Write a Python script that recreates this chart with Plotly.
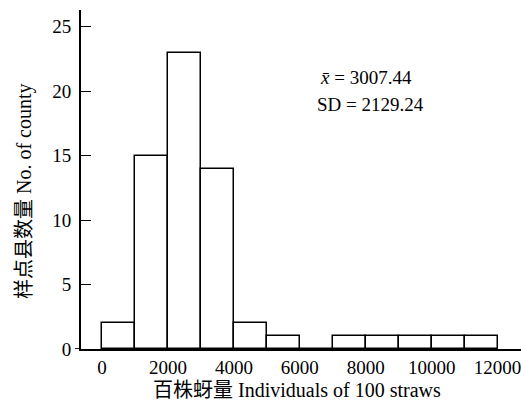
import plotly.graph_objects as go

bin_starts = [0, 1000, 2000, 3000, 4000, 5000, 6000, 7000, 8000, 9000, 10000, 11000]
counts = [2, 15, 23, 14, 2, 1, 0, 1, 1, 1, 1, 1]
bin_width = 1000
x_ticks = [0, 2000, 4000, 6000, 8000, 10000, 12000]
x_tick_labels = ["0", "2000", "4000", "6000", "8000", "10000", "12000"]
y_ticks = [0, 5, 10, 15, 20, 25]
x_title = "百株蚜量 Individuals of 100 straws"
y_title = "样点县数量 No. of county"
mean_text = "<i>x\u0304</i> = 3007.44"
sd_text = "SD = 2129.24"

FONT = "Liberation Serif, Noto Sans CJK SC"

centers = [b + bin_width / 2 for b in bin_starts]

fig = go.Figure()
fig.add_trace(go.Bar(
    x=centers, y=counts, width=[bin_width] * len(counts),
    marker=dict(color="white", line=dict(color="black", width=1.5)),
    showlegend=False, hoverinfo="skip",
))

fig.update_layout(
    width=521, height=401,
    margin=dict(l=81, r=0, t=10, b=52, autoexpand=False),
    plot_bgcolor="white", paper_bgcolor="white",
    font=dict(family=FONT, size=19, color="black"),
    bargap=0,
    xaxis=dict(
        range=[-640, 12710], tickvals=x_ticks, ticktext=x_tick_labels, ticks="",
        showgrid=False, zeroline=False, showline=True, linecolor="black", linewidth=1.8,
        tickfont=dict(size=19), automargin=False, ticklabeloverflow="allow",
        fixedrange=True,
    ),
    yaxis=dict(
        range=[0, 26.3], tickvals=y_ticks, ticks="inside", ticklen=10,
        tickwidth=1.4, tickcolor="black", showgrid=False, zeroline=False,
        showline=True, linecolor="black", linewidth=1.8, ticklabelstandoff=4,
        tickfont=dict(size=19), automargin=False, fixedrange=True,
    ),
    shapes=[dict(type="line", xref="paper", yref="y", x0=-6 / 440, x1=0, y0=0, y1=0,
                 line=dict(color="black", width=1.8))],
    annotations=[
        dict(text=mean_text, xref="paper", yref="paper", x=0.648, y=0.802,
             xanchor="center", yanchor="middle", showarrow=False, font=dict(size=19)),
        dict(text=sd_text, xref="paper", yref="paper", x=0.657, y=0.72,
             xanchor="center", yanchor="middle", showarrow=False, font=dict(size=19)),
        dict(text=x_title, xref="paper", yref="paper", x=0.491, y=-0.121,
             xanchor="center", yanchor="middle", showarrow=False, font=dict(size=20)),
        dict(text=y_title, xref="paper", yref="paper", x=-0.1295, y=0.466,
             xanchor="center", yanchor="middle", textangle=-90, showarrow=False,
             font=dict(size=20)),
    ],
)

fig.write_html("out.html", config={"displayModeBar": False},
               post_script="document.body.style.margin='0';")
